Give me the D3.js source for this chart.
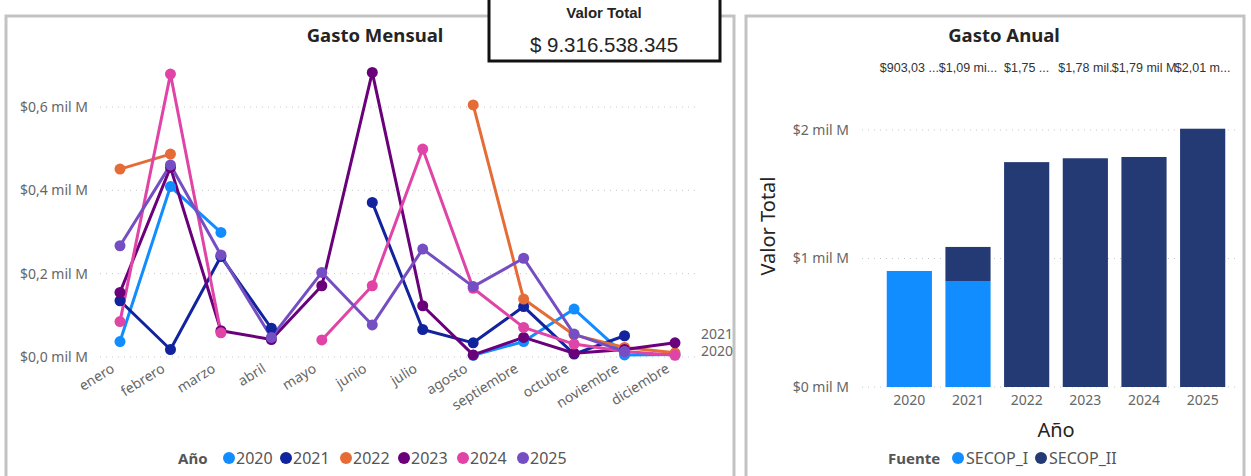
<!DOCTYPE html>
<html>
<head>
<meta charset="utf-8">
<script src="https://cdn.jsdelivr.net/npm/d3@7"></script>
<style>
body{margin:0;background:#fff;}
svg{display:block;font-family:"Segoe UI","Noto Sans",sans-serif;}
.grid line{stroke:#c8c8c8;stroke-dasharray:1,5;stroke-width:1;}
.tick text{fill:#666;}
</style>
</head>
<body>
<div id="viz"></div>
<script>
var width=1251, height=476;

// datos mensuales (miles de millones)
var meses=["enero","febrero","marzo","abril","mayo","junio","julio","agosto","septiembre","octubre","noviembre","diciembre"];
var anios=["2020","2021","2022","2023","2024","2025"];
var colores=["#118DFF","#12239E","#E66C37","#6B007B","#E044A7","#744EC2"];
var v2020=[0.037,0.409,0.299,null,null,null,null,0.004,0.037,0.115,0.005,0.006];
var v2021=[0.135,0.018,0.241,0.069,null,0.371,0.066,0.034,0.121,0.007,0.051,null];
var v2022=[0.451,0.487,null,null,null,null,null,0.605,0.139,0.053,0.023,0.010];
var v2023=[0.155,0.455,0.063,0.042,0.171,0.683,0.123,0.005,0.047,0.009,0.018,0.034];
var v2024=[0.085,0.679,0.058,null,0.041,0.171,0.499,0.165,0.071,0.031,0.013,0.004];
var v2025=[0.267,0.461,0.245,0.047,0.203,0.077,0.259,0.169,0.237,0.055,0.013,null];
var series=[v2020,v2021,v2022,v2023,v2024,v2025];
var yTicksMes=[0,0.2,0.4,0.6];

// datos anuales (miles de millones)
var fuentes=["SECOP_I","SECOP_II"];
var coloresFuente=["#118DFF","#243A75"];
var secopI=[0.903,0.825,0,0,0,0];
var secopII=[0,0.265,1.75,1.78,1.79,2.01];
var etiquetas=["$903,03 ...","$1,09 mi...","$1,75 ...","$1,78 mil.","$1,79 mil M","$2,01 m..."];
var yTicksAnio=[0,1,2];

var fontUI="'Segoe UI','Noto Sans',sans-serif";

var svg=d3.select("#viz").append("svg").attr("width",width).attr("height",height);

// paneles
svg.append("rect").attr("x",6).attr("y",16).attr("width",728).attr("height",465)
  .attr("fill","#fff").attr("stroke","#c3c3c3").attr("stroke-width",3);
svg.append("rect").attr("x",746).attr("y",16).attr("width",498).attr("height",465)
  .attr("fill","#fff").attr("stroke","#c3c3c3").attr("stroke-width",3);

// ---------- Gasto Mensual ----------
var x=d3.scalePoint().domain(meses).range([120,675]);
var y=d3.scaleLinear().domain([0,0.6]).range([357,107]);

svg.append("text").attr("x",375).attr("y",42).attr("text-anchor","middle")
  .style("font-size","18.5px").style("font-weight","bold").attr("fill","#252423").text("Gasto Mensual");

var gy=svg.append("g").attr("class","grid");
gy.selectAll("line").data(yTicksMes).enter().append("line")
  .attr("x1",100).attr("x2",697).attr("y1",d=>y(d)).attr("y2",d=>y(d));

svg.append("g").attr("transform","translate(94,0)")
  .call(d3.axisLeft(y).tickValues(yTicksMes).tickSize(0).tickPadding(6)
    .tickFormat(d=>"$"+d3.format(".1f")(d).replace(".",",")+" mil M"))
  .call(g=>g.select(".domain").remove())
  .selectAll("text").style("font-size","14px").attr("fill","#666").style("font-family",fontUI);

var xa=svg.append("g").attr("transform","translate(0,357)")
  .call(d3.axisBottom(x).tickSize(0).tickPadding(0));
xa.select(".domain").remove();
xa.selectAll("text").style("font-size","14px").attr("fill","#666")
  .style("font-family",fontUI)
  .attr("text-anchor","end").attr("dy",0)
  .attr("transform","translate(-5,14) rotate(-32)");

var line=d3.line().defined(d=>d!=null).x((d,i)=>x(meses[i])).y(d=>y(d));
series.forEach(function(s,k){
  svg.append("path").datum(s).attr("d",line).attr("fill","none")
    .attr("stroke",colores[k]).attr("stroke-width",3).attr("stroke-linejoin","round");
});
series.forEach(function(s,k){
  svg.append("g").selectAll("circle").data(s.map((v,i)=>({v:v,i:i})).filter(d=>d.v!=null))
    .enter().append("circle").attr("cx",d=>x(meses[d.i])).attr("cy",d=>y(d.v)).attr("r",5.5)
    .attr("fill",colores[k]);
});

svg.append("text").attr("x",701).attr("y",339).style("font-size","14px").attr("fill","#666").text("2021");
svg.append("text").attr("x",701).attr("y",356).style("font-size","14px").attr("fill","#666").text("2020");

// leyenda Año
var lg=svg.append("g").attr("transform","translate(178,458)");
lg.append("text").attr("x",0).attr("y",6).style("font-size","15px").style("font-weight","bold").attr("fill","#555").text("Año");
var lx=[51,108,168,226,285,345];
anios.forEach(function(a,i){
  lg.append("circle").attr("cx",lx[i]).attr("cy",0).attr("r",6).attr("fill",colores[i]);
  lg.append("text").attr("x",lx[i]+7).attr("y",6).style("font-size","16px").attr("fill","#555").text(a);
});

// tarjeta Valor Total
svg.append("rect").attr("x",489).attr("y",-6).attr("width",231).attr("height",67)
  .attr("fill","#fff").attr("stroke","#111").attr("stroke-width",3);
svg.append("text").attr("x",604).attr("y",18).attr("text-anchor","middle")
  .style("font-family","'Liberation Sans',Arial,sans-serif").style("font-size","15px").style("font-weight","bold")
  .attr("fill","#252423").text("Valor Total");
svg.append("text").attr("x",604).attr("y",52).attr("text-anchor","middle")
  .style("font-family","'Liberation Sans',Arial,sans-serif").style("font-size","20.5px")
  .attr("fill","#252423").text("$ 9.316.538.345");

// ---------- Gasto Anual ----------
var xb=d3.scaleBand().domain(anios).range([880,1232]).paddingInner(0.23).paddingOuter(0.115);
var yb=d3.scaleLinear().domain([0,2]).range([387,130]);

svg.append("text").attr("x",1004).attr("y",42).attr("text-anchor","middle")
  .style("font-size","18.5px").style("font-weight","bold").attr("fill","#252423").text("Gasto Anual");

var gb=svg.append("g").attr("class","grid");
gb.selectAll("line").data(yTicksAnio).enter().append("line")
  .attr("x1",862).attr("x2",1240).attr("y1",d=>yb(d)).attr("y2",d=>yb(d));

svg.append("g").attr("transform","translate(855,0)")
  .call(d3.axisLeft(yb).tickValues(yTicksAnio).tickSize(0).tickPadding(6).tickFormat(d=>"$"+d+" mil M"))
  .call(g=>g.select(".domain").remove())
  .selectAll("text").style("font-size","14px").attr("fill","#666").style("font-family",fontUI);

var xba=svg.append("g").attr("transform","translate(0,391)").call(d3.axisBottom(xb).tickSize(0).tickPadding(4));
xba.select(".domain").remove();
xba.selectAll("text").style("font-size","14px").attr("fill","#666").style("font-family",fontUI);

var stack=d3.stack().keys([0,1]).value((d,k)=>d[k]);
var filas=anios.map((a,i)=>[secopI[i],secopII[i]]);
var capas=stack(filas);
capas.forEach(function(capa,k){
  svg.append("g").selectAll("rect").data(capa).enter().append("rect")
    .attr("x",(d,i)=>xb(anios[i])).attr("width",xb.bandwidth())
    .attr("y",d=>yb(d[1])).attr("height",d=>yb(d[0])-yb(d[1]))
    .attr("fill",coloresFuente[k]);
});

svg.append("g").selectAll("text").data(etiquetas).enter().append("text")
  .attr("x",(d,i)=>xb(anios[i])+xb.bandwidth()/2).attr("y",72).attr("text-anchor","middle")
  .style("font-family","'Liberation Sans',Arial,sans-serif").style("font-size","12.5px").attr("fill","#333")
  .text(d=>d);

svg.append("text").attr("transform","translate(775,226) rotate(-90)").attr("text-anchor","middle")
  .style("font-size","20px").attr("fill","#252423").text("Valor Total");
svg.append("text").attr("x",1056).attr("y",437).attr("text-anchor","middle")
  .style("font-size","20px").attr("fill","#252423").text("Año");

var lf=svg.append("g").attr("transform","translate(888,458)");
lf.append("text").attr("x",0).attr("y",6).style("font-size","15px").style("font-weight","bold").attr("fill","#555").text("Fuente");
var fx=[70,153];
fuentes.forEach(function(f,i){
  lf.append("circle").attr("cx",fx[i]).attr("cy",0).attr("r",6).attr("fill",coloresFuente[i]);
  lf.append("text").attr("x",fx[i]+8).attr("y",6).style("font-size","16px").attr("fill","#555").text(f);
});
</script>
</body>
</html>
